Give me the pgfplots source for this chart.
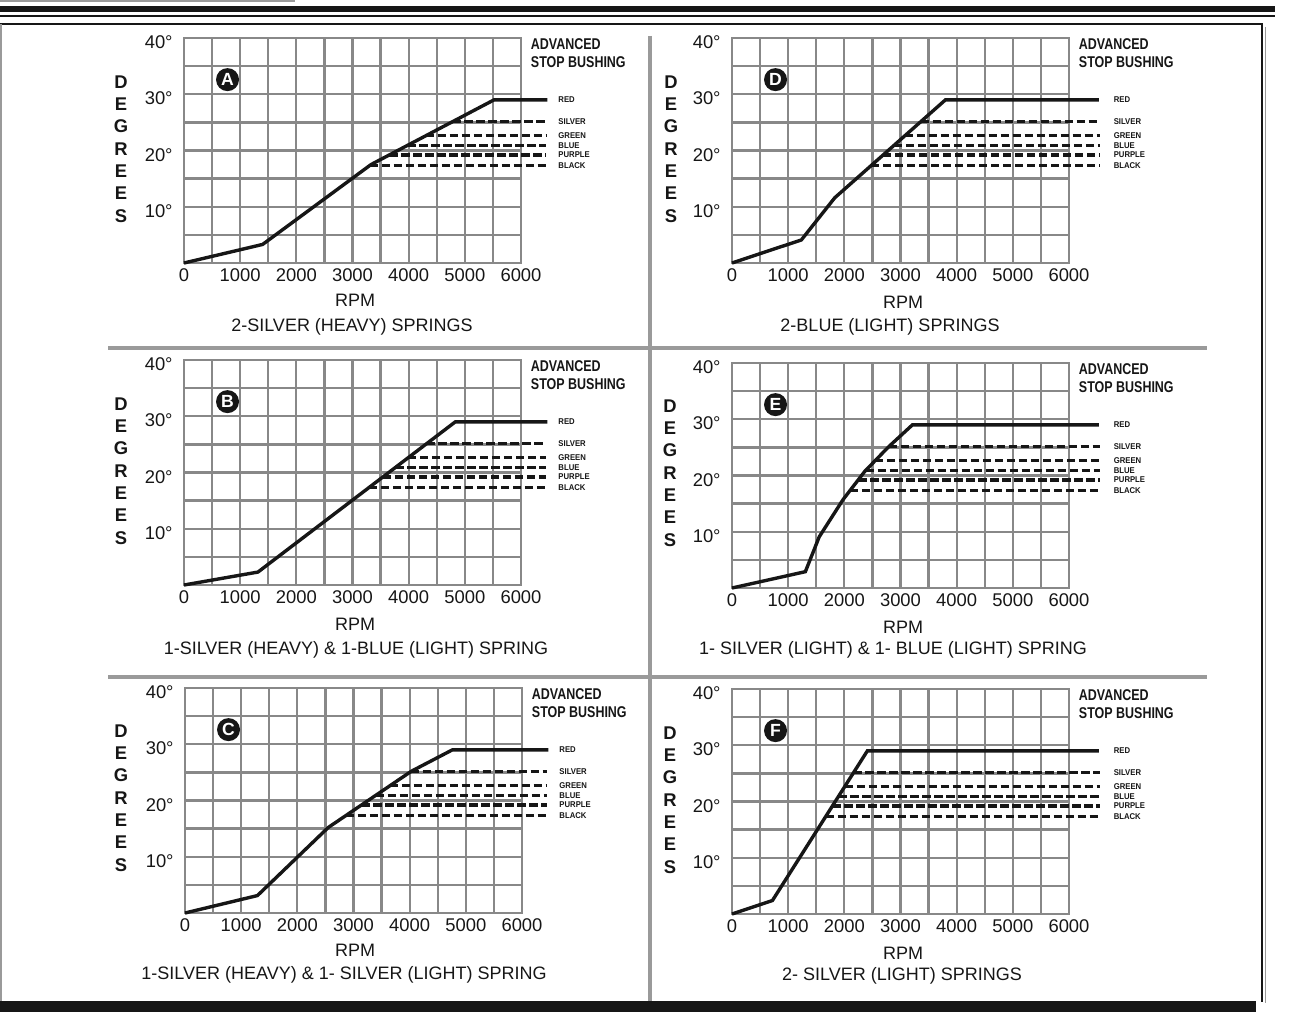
\documentclass[border=0pt]{standalone}
\usepackage{pgfplots}
\pgfplotsset{compat=1.18}
\usepackage{graphicx}
\usepackage{fontspec}
\setmainfont{Liberation Sans}

\definecolor{ink}{HTML}{161616}
\definecolor{gridgray}{HTML}{888888}
\definecolor{rulegray}{HTML}{9A9A9A}

% common look of the six advance-curve grids
\pgfplotsset{
  advgrid/.style={
    anchor=south west,
    scale only axis, width=168.5pt, height=112.5pt,
    xmin=0, xmax=6000, ymin=0, ymax=40, clip=false,
    xtick={0,1000,2000,3000,4000,5000,6000},
    xticklabels={0,1000,2000,3000,4000,5000,6000},
    ytick={0,10,20,30,40},
    yticklabels={,10°,20°,30°,40°},
    minor x tick num=1, minor y tick num=1,
    grid=both,
    major grid style={gridgray, line width=1.15pt},
    minor grid style={gridgray, line width=1.15pt},
    axis line style={gridgray, line width=1.15pt},
    major tick length=0pt, minor tick length=0pt,
    tick label style={font=\fontsize{9.2pt}{10pt}\selectfont, text=ink},
    xticklabel style={anchor=north, inner sep=0pt, yshift=-2.6pt},
    yticklabel style={anchor=east, inner sep=0pt, xshift=-5.5pt, yshift=-2.2pt},
  },
  curve/.style={ink, line width=1.7pt},
  stop/.style={ink, line width=1.6pt, dash pattern=on 4.2pt off 1.8pt},
}

\tikzset{
  bush/.style={anchor=west, inner sep=0pt, text=ink,
    font=\bfseries\fontsize{4.2pt}{4.2pt}\selectfont},
  adv/.style={anchor=base west, inner sep=0pt, text=ink,
    font=\bfseries\fontsize{7.8pt}{8pt}\selectfont},
  badge/.style={circle, fill=ink, text=white, inner sep=0pt,
    minimum size=11.5pt, font=\bfseries\fontsize{8.8pt}{8.8pt}\selectfont},
  lab/.style={text=ink, inner sep=0pt, font=\fontsize{9pt}{10pt}\selectfont},
  degs/.style={text=ink, inner sep=0pt, align=center,
    font=\bfseries\fontsize{9.2pt}{11.15pt}\selectfont},
}

% bushing names at the right end of the stop lines
\newcommand{\bushlabels}[1]{%
  \node[bush] at (axis cs:#1,29.0) {\scalebox{0.92}[1]{RED}};
  \node[bush] at (axis cs:#1,25.1) {\scalebox{0.92}[1]{SILVER}};
  \node[bush] at (axis cs:#1,22.6) {\scalebox{0.92}[1]{GREEN}};
  \node[bush] at (axis cs:#1,20.9) {\scalebox{0.92}[1]{BLUE}};
  \node[bush] at (axis cs:#1,19.2) {\scalebox{0.92}[1]{PURPLE}};
  \node[bush] at (axis cs:#1,17.3) {\scalebox{0.92}[1]{BLACK}};
}
% dashed stop levels: #1 end rpm, then start rpm of silver, green, blue, purple, black
\newcommand{\stoplines}[6]{%
  \addplot[stop] coordinates {(#2,25.1) (#1,25.1)};
  \addplot[stop] coordinates {(#3,22.6) (#1,22.6)};
  \addplot[stop] coordinates {(#4,20.9) (#1,20.9)};
  \addplot[stop] coordinates {(#5,19.2) (#1,19.2)};
  \addplot[stop] coordinates {(#6,17.3) (#1,17.3)};
}
\newcommand{\advhead}{%
  \node[adv] at (axis cs:6170,38.04) {\scalebox{0.8}[1]{ADVANCED}};
  \node[adv] at (axis cs:6170,34.8) {\scalebox{0.8}[1]{STOP BUSHING}};
}

\begin{document}
\begin{tikzpicture}
\begin{scope}[x=0.5pt, y=-0.5pt]
  \useasboundingbox (0,0) rectangle (1296,1021);
  % page frame
  \draw[rulegray, line width=0.75pt] (0,1) -- (295,1);
  \draw[ink, line width=3pt] (0,8.7) -- (1275,8.7);
  \draw[ink, line width=1pt] (0,16) -- (1275,16);
  \draw[ink, line width=1.25pt] (0,24) -- (1262,24) -- (1262,1002);
  \draw[rulegray, line width=0.75pt] (1265.5,27) -- (1265.5,1003);
  \draw[rulegray, line width=0.75pt] (0.8,24) -- (0.8,1001);
  \fill[ink] (0,1001) rectangle (1256,1012);
  % panel dividers
  \draw[rulegray, line width=2pt] (650,36) -- (650,1001);
  \draw[rulegray, line width=2pt] (108,348) -- (1207,348);
  \draw[rulegray, line width=2pt] (108,677) -- (1207,677);

  % grid origins
  \coordinate (pA) at (184,263);
  \coordinate (pD) at (732,263);
  \coordinate (pB) at (184,585);
  \coordinate (pE) at (732,588);
  \coordinate (pC) at (185,913);
  \coordinate (pF) at (732,914);

  % vertical axis words
  \node[degs] at (121,149) {D\\E\\G\\R\\E\\E\\S};
  \node[degs] at (671,149) {D\\E\\G\\R\\E\\E\\S};
  \node[degs] at (121,471) {D\\E\\G\\R\\E\\E\\S};
  \node[degs] at (670,473) {D\\E\\G\\R\\E\\E\\S};
  \node[degs] at (121,798) {D\\E\\G\\R\\E\\E\\S};
  \node[degs] at (670,800) {D\\E\\G\\R\\E\\E\\S};

  % RPM labels
  \node[lab] at (355,300) {RPM};
  \node[lab] at (903,302) {RPM};
  \node[lab] at (355,624) {RPM};
  \node[lab] at (903,627) {RPM};
  \node[lab] at (355,950) {RPM};
  \node[lab] at (903,953) {RPM};

  % spring combinations
  \node[lab] at (352,327) {2-SILVER (HEAVY) SPRINGS};
  \node[lab] at (890,327) {2-BLUE (LIGHT) SPRINGS};
  \node[lab] at (356,650) {1-SILVER (HEAVY) \& 1-BLUE (LIGHT) SPRING};
  \node[lab] at (893,650) {1- SILVER (LIGHT) \& 1- BLUE (LIGHT) SPRING};
  \node[lab] at (344,975) {1-SILVER (HEAVY) \& 1- SILVER (LIGHT) SPRING};
  \node[lab] at (902,976) {2- SILVER (LIGHT) SPRINGS};
\end{scope}

% ---- A ----
\begin{axis}[advgrid, at={(pA)}]
  \addplot[curve] coordinates {(0,0) (1400,3.3) (3330,17.5) (5520,29.0) (6470,29.0)};
  \stoplines{6450}{4777}{4301}{3977}{3654}{3303}
  \bushlabels{6660}
  \advhead
  \node[badge] at (axis cs:775,32.6) {A};
\end{axis}

% ---- D ----
\begin{axis}[advgrid, at={(pD)}]
  \addplot[curve] coordinates {(0,0) (1235,4.1) (1830,11.6) (3800,29.0) (6530,29.0)};
  \stoplines{6560}{3359}{3075}{2883}{2690}{2475}
  \bushlabels{6790}
  \advhead
  \node[badge] at (axis cs:775,32.6) {D};
\end{axis}

% ---- B ----
\begin{axis}[advgrid, at={(pB)}]
  \addplot[curve] coordinates {(0,0) (1317,2.3) (4830,29.0) (6470,29.0)};
  \stoplines{6450}{4317}{3988}{3764}{3541}{3291}
  \bushlabels{6660}
  \advhead
  \node[badge] at (axis cs:775,32.6) {B};
\end{axis}

% ---- E ----
\begin{axis}[advgrid, at={(pE)}]
  \addplot[curve] coordinates {(0,0) (1306,2.9) (1553,9.1) (1976,15.7) (2365,20.75) (2788,25.1) (3212,29.0) (6530,29.0)};
  \stoplines{6560}{2788}{2545}{2380}{2246}{2099}
  \bushlabels{6790}
  \advhead
  \node[badge] at (axis cs:775,32.6) {E};
\end{axis}

% ---- C ----
\begin{axis}[advgrid, at={(pC)}]
  \addplot[curve] coordinates {(0,0) (1290,3.1) (2550,15.2) (4030,25.2) (4760,29.0) (6470,29.0)};
  \stoplines{6450}{4015}{3645}{3394}{3142}{2861}
  \bushlabels{6660}
  \advhead
  \node[badge] at (axis cs:775,32.6) {C};
\end{axis}

% ---- F ----
\begin{axis}[advgrid, at={(pF)}]
  \addplot[curve] coordinates {(0,0) (720,2.4) (2410,29.0) (6530,29.0)};
  \stoplines{6560}{2162}{2003}{1895}{1787}{1667}
  \bushlabels{6790}
  \advhead
  \node[badge] at (axis cs:775,32.6) {F};
\end{axis}
\end{tikzpicture}
\end{document}
